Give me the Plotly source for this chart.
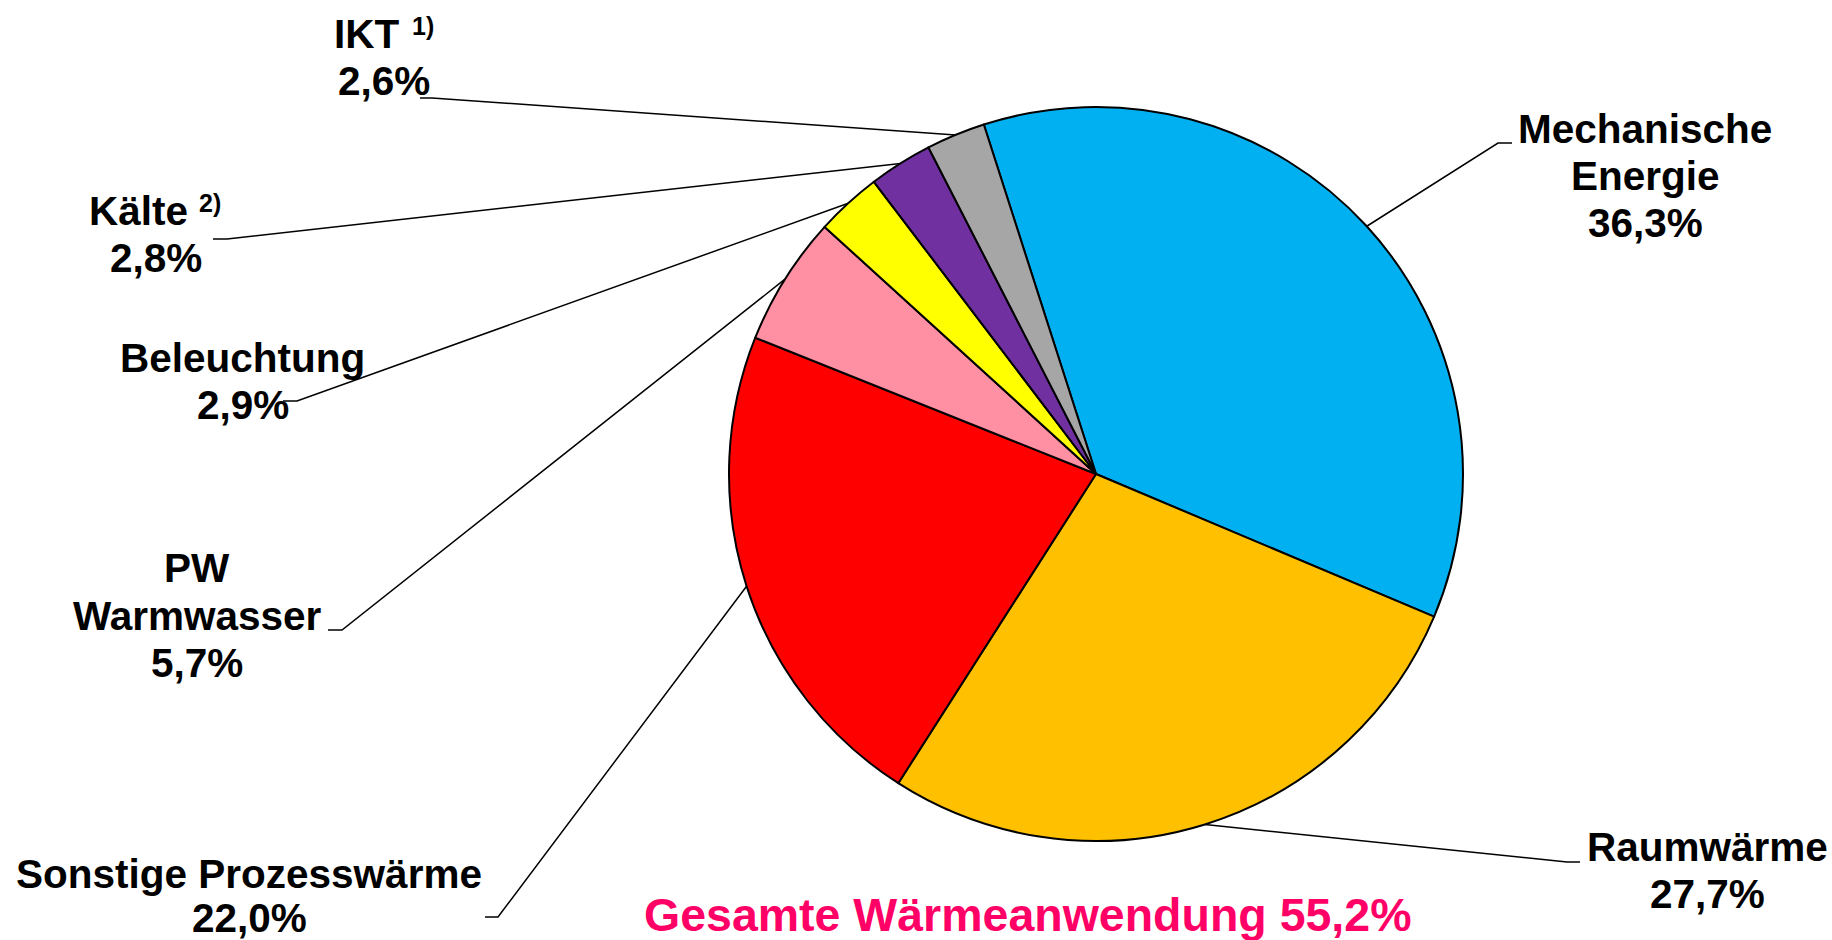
import math
import plotly.graph_objects as go

W, H = 1832, 940

# ---- data ----
labels = ["Mechanische Energie", "Raumwärme", "Sonstige Prozesswärme",
          "PW Warmwasser", "Beleuchtung", "Kälte", "IKT"]
values = [36.3, 27.7, 22.0, 5.7, 2.9, 2.8, 2.6]
colors = ["#00B0F0", "#FFC000", "#FF0000", "#FF8FA2", "#FFFF00", "#7030A0", "#A6A6A6"]
label_lines = [["Mechanische", "Energie"], ["Raumwärme"], ["Sonstige Prozesswärme"],
               ["PW", "Warmwasser"], ["Beleuchtung"], ["Kälte"], ["IKT"]]
footnotes = [None, None, None, None, None, "2)", "1)"]
summary_text = "Gesamte Wärmeanwendung 55,2%"

# ---- layout / style (pixels) ----
start_angle = -17.8  # degrees, clockwise from 12 o'clock
pie_px = (729, 107, 1463, 841)  # left, top, right, bottom
FS = 40.5
SUP_FS = 25
# per slice: text center x (or left x for footnoted), baselines, elbow point, line end point
label_pos = [
    dict(cx=1645, base=[143, 190, 237], elbow=(1498, 143), end=(1512, 143)),
    dict(cx=1707, base=[861, 908], elbow=(1567, 862), end=(1580, 862)),
    dict(cx=249, base=[888, 932], elbow=(498, 917), end=(485, 917)),
    dict(cx=197, base=[582, 630, 677], elbow=(342, 630), end=(328, 630)),
    dict(cx=243, base=[372, 419], elbow=(297, 401), end=(283, 401)),
    dict(cx=156, left=90, supx=200, supbase=212, base=[225, 272], elbow=(227, 239), end=(213, 239)),
    dict(cx=384, left=335, supx=413, supbase=35, base=[48, 95], elbow=(432, 98), end=(420, 98)),
]

font_family = "Liberation Sans, Arial, sans-serif"

fig = go.Figure()

# pie
fig.add_trace(go.Pie(
    labels=labels, values=values, sort=False, direction="clockwise",
    rotation=start_angle,
    marker=dict(colors=colors, line=dict(color="black", width=2)),
    textinfo="none", hoverinfo="label+percent", showlegend=False,
    domain=dict(x=[pie_px[0] / W, pie_px[2] / W], y=[1 - pie_px[3] / H, 1 - pie_px[1] / H]),
))

cx = (pie_px[0] + pie_px[2]) / 2
cy = (pie_px[1] + pie_px[3]) / 2
r = min(pie_px[2] - pie_px[0], pie_px[3] - pie_px[1]) / 2
total = sum(values)

annotations = []


def add_text(text, x, baseline, size, xanchor="center", color="black"):
    y = baseline + 2 + 0.212 * size  # pixel position of the text box bottom
    annotations.append(dict(
        text=text, x=x / W, y=1 - y / H, xref="paper", yref="paper",
        xanchor=xanchor, yanchor="bottom",
        showarrow=False, font=dict(family=font_family, size=size, color=color, weight="bold"),
    ))


cum = 0.0
for i, v in enumerate(values):
    mid = math.radians(start_angle + 360 * (cum + v / 2) / total)
    cum += v
    ex = cx + r * math.sin(mid)
    ey = cy - r * math.cos(mid)
    p = label_pos[i]
    fig.add_trace(go.Scatter(
        x=[ex, p["elbow"][0], p["end"][0]], y=[ey, p["elbow"][1], p["end"][1]],
        mode="lines", line=dict(color="black", width=1.5), hoverinfo="skip", showlegend=False,
    ))
    pct = f"{v:.1f}%".replace(".", ",")
    lines = label_lines[i] + [pct]
    for j, t in enumerate(lines):
        if j == 0 and footnotes[i]:
            add_text(t, p["left"] - 3.5, p["base"][j], FS, xanchor="left")
            add_text(footnotes[i], p["supx"] - 3, p["supbase"], SUP_FS, xanchor="left")
        else:
            add_text(t, p["cx"], p["base"][j], FS)

add_text(summary_text, 1028, 931, 46.5, color="#FF0066")

fig.update_layout(
    width=W, height=H,
    margin=dict(l=0, r=0, t=0, b=0),
    paper_bgcolor="white", plot_bgcolor="white",
    xaxis=dict(range=[0, W], visible=False, domain=[0, 1], fixedrange=True),
    yaxis=dict(range=[H, 0], visible=False, domain=[0, 1], fixedrange=True),
    annotations=annotations,
    showlegend=False,
)

fig.write_html(
    "out.html",
    config={"displayModeBar": False},
    post_script="document.body.style.margin='0';document.body.style.overflow='hidden';",
)
